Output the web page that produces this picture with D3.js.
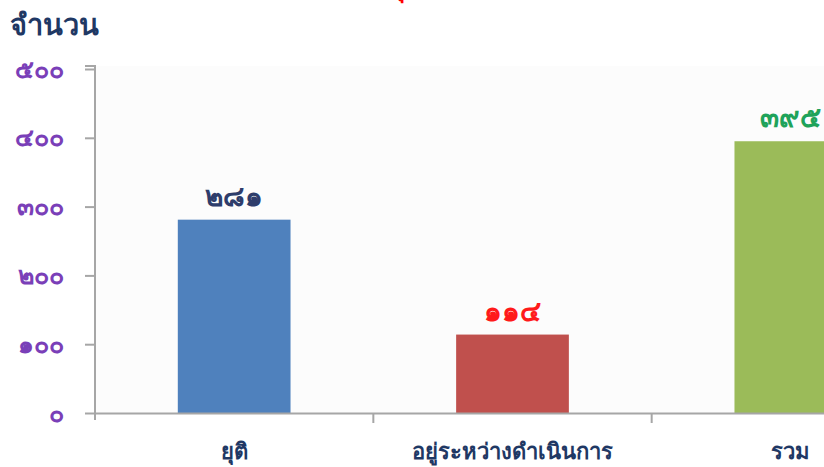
<!DOCTYPE html>
<html>
<head>
<meta charset="utf-8">
<script src="https://cdn.jsdelivr.net/npm/d3@7"></script>
<style>
  body { margin: 0; background: #fff; }
  text { font-family: "Noto Sans", "DejaVu Sans", sans-serif; }
</style>
</head>
<body>
<script>
// chart data
var categories = ["ยุติ", "อยู่ระหว่างดำเนินการ", "รวม"];
var values = [281, 114, 395];
var barColors = ["#4f81bd", "#c0504d", "#9bbb59"];
var labelColors = ["#2e3d6b", "#ff1a1a", "#1fa35a"];
var yTicks = [0, 100, 200, 300, 400, 500];

var w = 824, h = 467;
var thaiDigits = "๐๑๒๓๔๕๖๗๘๙";
function toThai(n) {
  return String(n).replace(/[0-9]/g, function(d){ return thaiDigits[+d]; });
}

var svg = d3.select("body").append("svg")
    .attr("width", w)
    .attr("height", h);

// top title (cut off) and y axis title
svg.append("text")
    .attr("x", 388).attr("y", -4)
    .style("font-size", "26px").style("font-weight", "bold")
    .style("fill", "#ff0000")
    .text("ปุ");

svg.append("text")
    .attr("x", 10).attr("y", 35)
    .style("font-size", "29px").style("font-weight", "bold")
    .style("fill", "#1f3864")
    .text("จำนวน");

var x = d3.scaleBand()
    .domain(categories)
    .range([95, 930])
    .paddingInner(0)
    .paddingOuter(0);

var y = d3.scaleLinear()
    .domain([0, 500])
    .range([413, 69]);

// light plot area
svg.append("rect")
    .attr("x", 96).attr("y", 66)
    .attr("width", w - 96).attr("height", 413 - 66)
    .style("fill", "#fcfcfc");

// bars
var bw = x.bandwidth() * 0.405;
svg.selectAll(".bar")
    .data(values)
  .enter().append("rect")
    .attr("class", "bar")
    .attr("x", function(d, i){ return x(categories[i]) + x.bandwidth() / 2 - bw / 2; })
    .attr("y", function(d){ return y(d); })
    .attr("width", bw)
    .attr("height", function(d){ return y(0) - y(d); })
    .style("fill", function(d, i){ return barColors[i]; });

// value labels
svg.selectAll(".val")
    .data(values)
  .enter().append("text")
    .attr("class", "val")
    .attr("x", function(d, i){ return x(categories[i]) + x.bandwidth() / 2; })
    .attr("y", function(d){ return y(d) - 14; })
    .attr("text-anchor", "middle")
    .style("font-size", "28px").style("font-weight", "bold")
    .style("fill", function(d, i){ return labelColors[i]; })
    .text(function(d){ return toThai(d); });

// y axis
var yAxis = svg.append("g")
    .attr("transform", "translate(95,0)")
    .call(d3.axisLeft(y).tickValues(yTicks).tickSize(10).tickPadding(21)
      .tickFormat(function(d){ return toThai(d); }));
yAxis.select(".domain").attr("d", "M-10,66H0V420").style("stroke", "#a6a6a6").style("stroke-width", 2);
yAxis.selectAll(".tick line").style("stroke", "#a6a6a6").style("stroke-width", 2);
yAxis.selectAll(".tick text")
    .style("font-size", "25px").style("font-weight", "bold")
    .style("fill", "#7a3fb8");

// x axis
var xAxis = svg.append("g")
    .attr("transform", "translate(0,413)")
    .call(d3.axisBottom(x).tickSize(0).tickPadding(0));
xAxis.select(".domain").style("stroke", "#a6a6a6").style("stroke-width", 2);
xAxis.selectAll(".tick text")
    .attr("y", 46).attr("dy", 0)
    .style("font-size", "22px").style("font-weight", "bold")
    .style("fill", "#1f3864");

// category dividers
svg.selectAll(".divider")
    .data(categories.slice(1))
  .enter().append("line")
    .attr("class", "divider")
    .attr("x1", function(d){ return x(d); })
    .attr("x2", function(d){ return x(d); })
    .attr("y1", 413).attr("y2", 423)
    .style("stroke", "#a6a6a6").style("stroke-width", 2);
</script>
</body>
</html>
